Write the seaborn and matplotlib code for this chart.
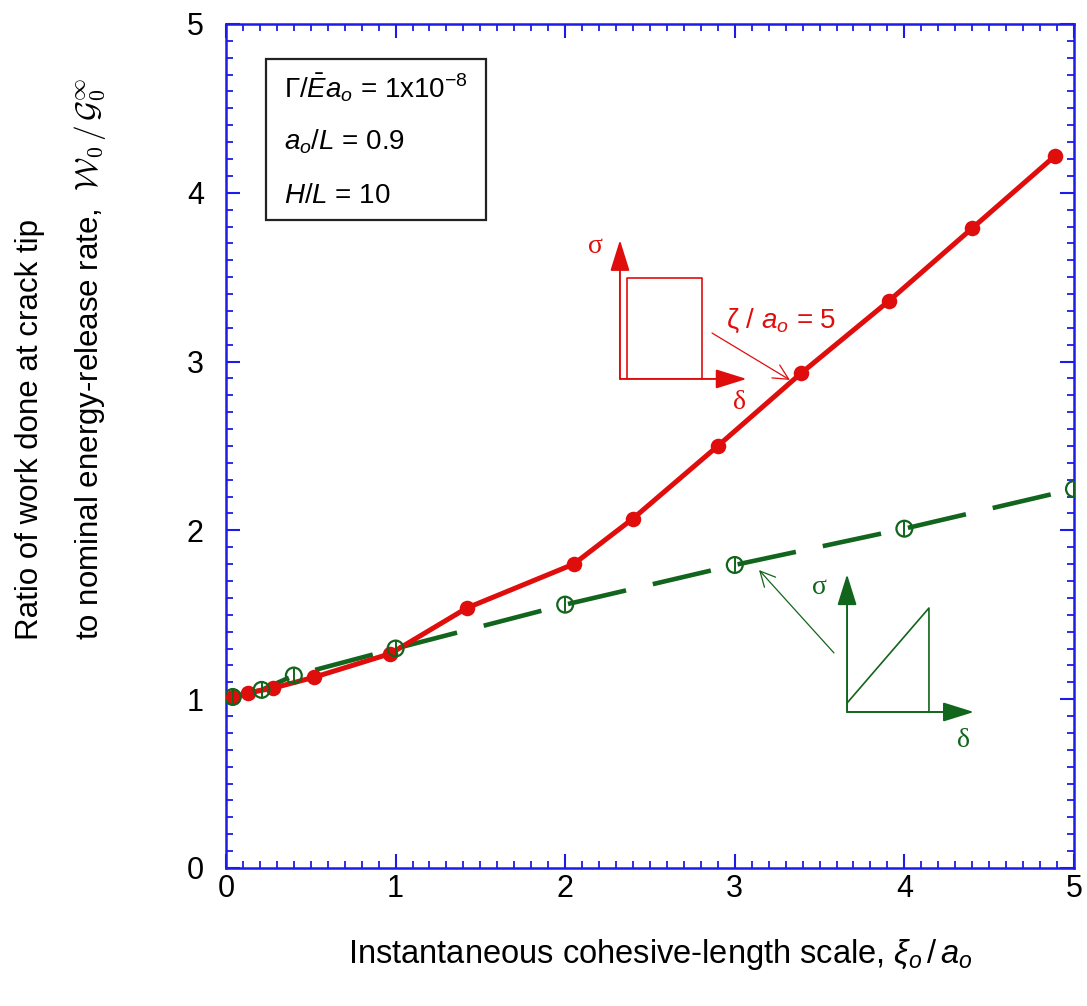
import numpy as np
import pandas as pd
import matplotlib
matplotlib.use("Agg")
import matplotlib.pyplot as plt
from matplotlib.patches import Rectangle, FancyArrowPatch
from matplotlib.ticker import MultipleLocator
import seaborn as sns

# Square (constant-stress) cohesive law, zeta/a_o = 5
square_xi = [0.04, 0.13, 0.28, 0.52, 0.97, 1.42, 2.05, 2.40, 2.90, 3.39, 3.91, 4.40, 4.89]
square_w = [1.013, 1.037, 1.066, 1.13, 1.27, 1.54, 1.80, 2.07, 2.50, 2.93, 3.36, 3.79, 4.22]

# Triangular (linear-softening) cohesive law
tri_xi = [0.04, 0.21, 0.40, 1.00, 2.00, 3.00, 4.00, 5.00]
tri_w = [1.013, 1.055, 1.14, 1.30, 1.56, 1.795, 2.01, 2.245]

RED = "#e00d0d"
GREEN = "#11651c"
BLUE = "#1c1ce6"

sns.set_theme(style="white")
plt.rcParams["font.family"] = ["Liberation Sans", "DejaVu Sans"]
plt.rcParams["text.color"] = "black"
plt.rcParams["xtick.labelcolor"] = "black"
plt.rcParams["ytick.labelcolor"] = "black"
plt.rcParams["mathtext.fontset"] = "custom"
plt.rcParams["mathtext.rm"] = "Liberation Sans"
plt.rcParams["mathtext.it"] = "Liberation Sans:italic"
plt.rcParams["mathtext.bf"] = "Liberation Sans:bold"

fig = plt.figure(figsize=(10.87, 10.06), dpi=100)
ax = fig.add_axes([0.2079, 0.1372, 0.7801, 0.8390])

sq = pd.DataFrame({"xi": square_xi, "w": square_w})
tr = pd.DataFrame({"xi": tri_xi, "w": tri_w})

sns.lineplot(data=tr, x="xi", y="w", ax=ax, color=GREEN, lw=3.3,
             linestyle=(0, (13, 6)), zorder=2)
sns.lineplot(data=sq, x="xi", y="w", ax=ax, color=RED, lw=3.6, zorder=3)
sns.scatterplot(data=sq, x="xi", y="w", ax=ax, color=RED, s=125,
                edgecolor=RED, linewidth=0, zorder=4)
ax.scatter(tri_xi, tri_w, s=130, facecolor="none", edgecolor=GREEN,
           linewidth=1.6, zorder=5)
ax.scatter(tri_xi, tri_w, s=130, marker="|", color=GREEN, linewidth=1.4, zorder=6)

ax.set_xlim(0, 5)
ax.set_ylim(0, 5)
ax.set_xlabel("")
ax.set_ylabel("")

# Axes frame and ticks
for sp in ax.spines.values():
    sp.set_color(BLUE)
    sp.set_linewidth(1.8)
ax.xaxis.set_major_locator(MultipleLocator(1))
ax.yaxis.set_major_locator(MultipleLocator(1))
ax.xaxis.set_minor_locator(MultipleLocator(0.1))
ax.yaxis.set_minor_locator(MultipleLocator(0.1))
ax.tick_params(which="both", direction="in", top=True, right=True,
               bottom=True, left=True, color=BLUE, labelcolor="black")
ax.tick_params(which="major", length=10, width=1.5, labelsize=22)
ax.tick_params(which="minor", length=5, width=1.3)
ax.tick_params(axis="x", which="major", pad=4)
ax.tick_params(axis="y", which="major", pad=16)

# Axis titles
fig.text(0.607, 0.051, r"Instantaneous cohesive-length scale, $\xi_o\,/\,a_o$",
         ha="center", va="center", fontsize=23.5, color="black")
fig.text(0.028, 0.364, "Ratio of work done at crack tip", rotation=90,
         rotation_mode="anchor", ha="left", va="center", fontsize=22.5, color="black")
fig.text(0.083, 0.364,
         r"to nominal energy-release rate,  $\mathcal{W}_0\,/\,\mathcal{G}_0^{\infty}$",
         rotation=90, rotation_mode="anchor", ha="left", va="center",
         fontsize=22.5, math_fontfamily="cm", color="black")

# Parameter box
ax.add_patch(Rectangle((0.0472, 0.7678), 0.2594, 0.1908, transform=ax.transAxes,
                       fill=False, edgecolor="#222222", lw=1.6, zorder=7))
box_lines = [r"$\Gamma/\bar{E}a_o$ = 1x10$^{-8}$", r"$a_o/L$ = 0.9", r"$H/L$ = 10"]
for yy, s in zip([0.924, 0.860, 0.796], box_lines):
    ax.text(0.068, yy, s, transform=ax.transAxes, fontsize=20, va="center",
            ha="left", zorder=8, color="black")

def arrow(p0, p1, color, lw=1.4, ms=24):
    ax.add_patch(FancyArrowPatch(p0, p1,
                                 arrowstyle="-|>,head_length=0.8,head_width=0.25",
                                 mutation_scale=ms, color=color, lw=lw,
                                 shrinkA=0, shrinkB=0, zorder=6))

def thin_arrow(p0, p1, color):
    ax.add_patch(FancyArrowPatch(p0, p1, arrowstyle="->,head_length=0.6,head_width=0.3",
                                 mutation_scale=18, color=color, lw=0.9,
                                 shrinkA=0, shrinkB=0, zorder=6))

# Square cohesive law sketch
arrow((2.323, 2.897), (2.323, 3.72), RED)
arrow((2.323, 2.897), (3.07, 2.897), RED)
ax.plot([2.364, 2.364, 2.807, 2.807], [2.897, 3.495, 3.495, 2.897], color=RED, lw=1.2, zorder=6)
ax.text(2.176, 3.68, r"σ", color=RED, fontsize=20, family="Liberation Serif",
        ha="center", va="center")
ax.text(3.03, 2.755, r"δ", color=RED, fontsize=20, family="Liberation Serif",
        ha="center", va="center")
ax.text(2.95, 3.24, r"ζ / $a_o$ = 5", color=RED, fontsize=20, ha="left", va="center")
thin_arrow((2.866, 3.169), (3.325, 2.891), RED)

# Triangular cohesive law sketch
arrow((3.662, 0.924), (3.662, 1.74), GREEN)
arrow((3.662, 0.924), (4.41, 0.924), GREEN)
ax.plot([3.662, 4.145, 4.145], [0.977, 1.540, 0.924], color=GREEN, lw=1.2, zorder=6)
ax.text(3.502, 1.659, r"σ", color=GREEN, fontsize=20, family="Liberation Serif",
        ha="center", va="center")
ax.text(4.346, 0.758, r"δ", color=GREEN, fontsize=20, family="Liberation Serif",
        ha="center", va="center")
thin_arrow((3.585, 1.274), (3.143, 1.765), GREEN)

fig.savefig("out.png", dpi=100)
